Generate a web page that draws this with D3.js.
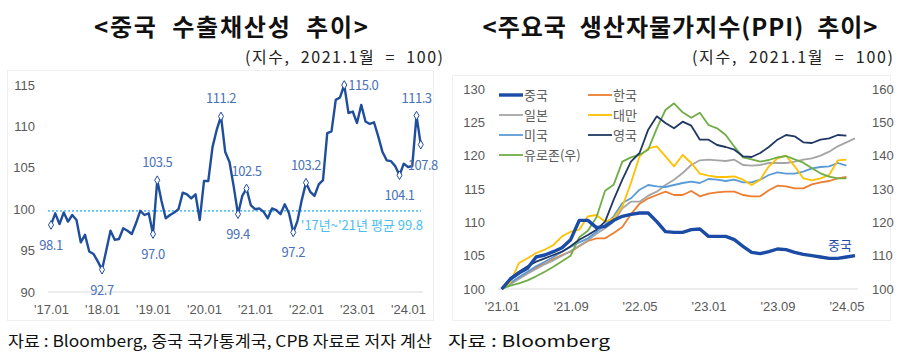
<!DOCTYPE html>
<html>
<head>
<meta charset="utf-8">
<script src="https://d3js.org/d3.v7.min.js"></script>
<style>
  body { margin: 0; background: #fff; }
  svg { font-family: "Noto Sans CJK KR", "Noto Sans", sans-serif; }
  .pre { white-space: pre; }
</style>
</head>
<body>
<div id="chart"></div>
<script>
// ---- left chart: 중국 수출채산성 (2017.01 ~ 2024.04, monthly)
var exportIdx = [98.1, 99.5, 98.2, 99.6, 98.5, 99.3, 98.7, 96.0, 96.9, 94.9, 94.6, 93.7,
  92.7, 95.0, 97.4, 96.3, 96.4, 97.7, 97.4, 97.0, 98.3, 99.8, 99.3, 99.5,
  97.0, 103.5, 101.0, 98.9, 99.3, 99.6, 100.0, 102.0, 101.8, 101.3, 101.8, 98.7,
  103.4, 103.4, 107.5, 109.6, 111.2, 106.9, 105.7, 102.7, 99.4, 101.6, 102.5, 100.5,
  100.0, 100.1, 99.7, 98.9, 100.1, 99.9, 99.4, 100.6, 99.5, 97.2, 98.6, 101.1,
  103.2, 102.1, 101.6, 103.0, 103.5, 109.2, 109.4, 113.2, 113.5, 115.0, 111.6, 111.8,
  110.4, 112.6, 110.6, 110.3, 110.5, 108.8, 106.9, 105.9, 105.8, 105.2, 104.1, 105.5,
  105.1, 105.2, 111.3, 107.8];
var exportTicks = ["'17.01", "'18.01", "'19.01", "'20.01", "'21.01", "'22.01", "'23.01", "'24.01"];
var exportAvg = 99.8;
// labelled points: [month index, position]
var exportMarks = [[0, "below"], [12, "below"], [24, "below"], [25, "above"], [40, "above"],
  [44, "below"], [46, "above"], [57, "below"], [60, "above"], [69, "right"], [82, "below"],
  [86, "above"], [87, "below"]];

// ---- right chart: 주요국 PPI (2021.01 ~ 2024.06, monthly)
var ppiTicks = ["'21.01", "'21.09", "'22.05", "'23.01", "'23.09", "'24.05"];
var ppiChina = [100, 101.5, 102.4, 103.1, 104.8, 105.1, 105.6, 106.2, 107.4, 110.3, 110.3, 109.2,
  109.4, 110.3, 110.9, 111.2, 111.4, 111.4, 110.1, 108.6, 108.5, 108.5, 108.9, 109.0,
  107.9, 107.9, 107.9, 107.4, 106.4, 105.5, 105.3, 105.6, 106.0, 105.9, 105.5, 105.2,
  105.0, 104.8, 104.6, 104.6, 104.8, 105.0];
var ppiKorea = [100, 100.8, 101.6, 102.5, 103.2, 103.8, 104.5, 105.1, 105.6, 106.4, 107.2, 107.6,
  107.6, 108.4, 109.3, 111.2, 112.8, 113.6, 114.1, 114.6, 114.1, 114.1, 114.7, 113.9,
  114.3, 114.5, 114.6, 114.6, 114.1, 113.9, 113.9, 114.8, 115.5, 115.4, 115.1, 115.1,
  115.7, 116.0, 116.2, 116.6, 116.8];
var ppiJapan = [100, 100.7, 101.5, 102.3, 103.0, 103.7, 104.3, 105.0, 105.7, 106.5, 107.3, 108.3,
  109.1, 110.1, 112.1, 113.1, 113.1, 114.0, 114.6, 115.6, 116.4, 117.4, 118.6, 119.3,
  119.4, 119.3, 119.2, 119.4, 118.6, 118.5, 118.6, 118.9, 118.9, 118.9, 119.1, 119.4,
  119.6, 120.0, 120.6, 121.4, 122.0, 122.6];
var ppiTaiwan = [100, 101.0, 103.9, 104.6, 105.4, 105.9, 106.6, 107.9, 108.6, 108.9, 110.9, 111.1,
  110.1, 110.6, 112.4, 115.9, 119.9, 121.1, 121.4, 119.9, 118.4, 120.1, 118.9, 117.3,
  117.0, 116.8, 116.8, 116.9, 116.4, 115.6, 116.4, 118.4, 119.6, 120.0, 118.4, 116.6,
  116.3, 116.6, 117.1, 119.3, 119.4];
var ppiUS = [100, 100.9, 101.8, 102.6, 103.4, 104.1, 104.8, 105.6, 106.3, 107.0, 107.6, 108.6,
  109.6, 110.9, 112.9, 113.6, 114.9, 115.6, 115.4, 115.3, 115.6, 115.9, 116.1, 115.9,
  116.5, 116.4, 116.2, 116.4, 116.0, 116.0, 116.4, 117.1, 117.5, 117.3, 117.3, 117.6,
  118.1, 118.3, 118.4, 118.9, 118.5];
var ppiUK = [100, 101.6, 102.6, 103.4, 104.1, 104.6, 105.1, 105.6, 106.4, 107.4, 108.1, 108.9,
  110.1, 113.4, 116.4, 119.1, 120.4, 123.9, 125.9, 124.9, 124.1, 125.1, 124.5, 122.4,
  122.4, 121.6, 121.3, 120.9, 119.9, 119.8, 120.4, 121.3, 122.4, 123.1, 122.9, 122.0,
  121.9, 122.4, 122.6, 123.1, 123.0];
var ppiEuro = [100, 101.0, 101.7, 102.6, 103.8, 105.2, 106.7, 108.3, 110.0, 115.5, 117.5, 121.5,
  129.5, 131.3, 138.2, 139.5, 140.3, 141.8, 148.2, 153.7, 155.7, 153.0, 151.4, 152.9,
  149.2, 148.2, 146.2, 142.7, 139.5, 138.9, 138.2, 138.7, 139.5, 139.9, 138.9, 137.9,
  136.2, 134.7, 133.7, 133.2, 133.2];

var W = 900, H = 361;
var svg = d3.select("#chart").append("svg").attr("width", W).attr("height", H);

// ===== left chart =====
// faint frame
svg.append("rect").attr("x", 7.5).attr("y", 70.5).attr("width", 426).attr("height", 250)
  .attr("fill", "none").attr("stroke", "#f0f0f0");

svg.append("text").attr("class", "pre").attr("x", 231).attr("y", 36).attr("text-anchor", "middle")
  .attr("font-size", 24).attr("font-weight", "bold").attr("fill", "#111")
  .attr("textLength", 274).attr("lengthAdjust", "spacing")
  .text("<중국  수출채산성  추이>");
svg.append("text").attr("class", "pre").attr("x", 443).attr("y", 63).attr("text-anchor", "end")
  .attr("font-size", 16).attr("fill", "#222")
  .attr("textLength", 198).attr("lengthAdjust", "spacing")
  .text("(지수,  2021.1월  =  100)");

var lx = d3.scaleLinear().domain([0, 87]).range([51, 51 + 4.25 * 87]);
var ly = d3.scaleLinear().domain([90, 115]).range([292, 85]);

var lyAxis = d3.axisLeft(ly).tickValues([90, 95, 100, 105, 110, 115]).tickSize(0).tickPadding(0);
svg.append("g").attr("class", "axis").attr("transform", "translate(35,0)").call(lyAxis)
  .call(function(g) { g.select(".domain").remove(); })
  .selectAll("text").attr("font-size", 13).attr("fill", "#595959");

svg.append("line").attr("x1", 48).attr("x2", 423).attr("y1", 292).attr("y2", 292)
  .attr("stroke", "#d9d9d9").attr("stroke-width", 1);

var lxAxis = d3.axisBottom(lx).tickValues(d3.range(0, 88, 12))
  .tickFormat(function(d, i) { return exportTicks[i]; }).tickSize(0).tickPadding(0);
svg.append("g").attr("transform", "translate(0,305)").call(lxAxis)
  .call(function(g) { g.select(".domain").remove(); })
  .selectAll("text").attr("font-size", 13).attr("fill", "#595959");

// average line
svg.append("line").attr("x1", 48).attr("x2", 421).attr("y1", ly(exportAvg)).attr("y2", ly(exportAvg))
  .attr("stroke", "#5cc4ef").attr("stroke-width", 1.6).attr("stroke-dasharray", "2,2");
svg.append("text").attr("x", 423).attr("y", 230).attr("text-anchor", "end")
  .attr("font-size", 13).attr("fill", "#4cbdf0").text("'17년~'21년 평균 " + exportAvg);

var lline = d3.line().x(function(d, i) { return lx(i); }).y(function(d) { return ly(d); });
svg.append("path").datum(exportIdx).attr("d", lline).attr("fill", "none")
  .attr("stroke", "#1f4e9c").attr("stroke-width", 2.4).attr("stroke-linejoin", "round");

var diamond = d3.symbol().type(d3.symbolDiamond).size(22);
svg.selectAll(".mk").data(exportMarks).enter().append("path")
  .attr("transform", function(d) { return "translate(" + lx(d[0]) + "," + ly(exportIdx[d[0]]) + ")"; })
  .attr("d", diamond).attr("fill", "#fff").attr("stroke", "#1f4e9c").attr("stroke-width", 1);

svg.selectAll(".lb").data(exportMarks).enter().append("text")
  .attr("x", function(d) {
    if (d[1] == "right") return lx(d[0]) + 4;
    return lx(d[0]) + (d[0] == 87 ? 2 : 0);
  })
  .attr("y", function(d) {
    var y = ly(exportIdx[d[0]]);
    if (d[1] == "above") return y - 13;
    if (d[1] == "below") return y + 25;
    return y + 5;
  })
  .attr("text-anchor", function(d) { return d[1] == "right" ? "start" : "middle"; })
  .attr("font-size", 13).attr("fill", "#4a72b8").attr("letter-spacing", -0.5)
  .text(function(d) { return exportIdx[d[0]].toFixed(1); });

// ===== right chart =====
svg.append("rect").attr("x", 452.5).attr("y", 75.5).attr("width", 438).attr("height", 245)
  .attr("fill", "none").attr("stroke", "#f0f0f0");

svg.append("text").attr("class", "pre").attr("x", 680).attr("y", 36).attr("text-anchor", "middle")
  .attr("font-size", 24).attr("font-weight", "bold").attr("fill", "#111")
  .attr("textLength", 395).attr("lengthAdjust", "spacing")
  .text("<주요국  생산자물가지수(PPI)  추이>");
svg.append("text").attr("class", "pre").attr("x", 893).attr("y", 63).attr("text-anchor", "end")
  .attr("font-size", 16).attr("fill", "#222")
  .attr("textLength", 201).attr("lengthAdjust", "spacing")
  .text("(지수,  2021.1월  =  100)");

var rx = d3.scaleLinear().domain([0, 41]).range([501.7, 855]);
var ryL = d3.scaleLinear().domain([100, 130]).range([289, 89]);
var ryR = d3.scaleLinear().domain([100, 160]).range([289, 89]);

svg.append("g").attr("transform", "translate(485,0)")
  .call(d3.axisLeft(ryL).tickValues(d3.range(100, 131, 5)).tickSize(0).tickPadding(0))
  .call(function(g) { g.select(".domain").remove(); })
  .selectAll("text").attr("font-size", 13).attr("fill", "#595959");
svg.append("g").attr("transform", "translate(872,0)")
  .call(d3.axisRight(ryR).tickValues(d3.range(100, 161, 10)).tickSize(0).tickPadding(0))
  .call(function(g) { g.select(".domain").remove(); })
  .selectAll("text").attr("font-size", 13).attr("fill", "#595959");

svg.append("line").attr("x1", 498).attr("x2", 858).attr("y1", 289).attr("y2", 289)
  .attr("stroke", "#d9d9d9").attr("stroke-width", 1);

svg.append("g").attr("transform", "translate(0,302)")
  .call(d3.axisBottom(rx).tickValues(d3.range(0, 41, 8))
    .tickFormat(function(d, i) { return ppiTicks[i]; }).tickSize(0).tickPadding(0))
  .call(function(g) { g.select(".domain").remove(); })
  .selectAll("text").attr("font-size", 13).attr("fill", "#595959");

var series = [
  { name: "중국", values: ppiChina, color: "#1a4ba6", width: 3.4, axis: ryL },
  { name: "한국", values: ppiKorea, color: "#ed7d31", width: 1.8, axis: ryL },
  { name: "일본", values: ppiJapan, color: "#a5a5a5", width: 1.8, axis: ryL },
  { name: "대만", values: ppiTaiwan, color: "#ffc000", width: 1.8, axis: ryL },
  { name: "미국", values: ppiUS, color: "#5b9bd5", width: 1.8, axis: ryL },
  { name: "영국", values: ppiUK, color: "#203864", width: 1.8, axis: ryL },
  { name: "유로존(우)", values: ppiEuro, color: "#70ad47", width: 1.8, axis: ryR }
];

var drawOrder = [1, 2, 4, 3, 6, 5, 0];
drawOrder.forEach(function(k) {
  var s = series[k];
  var line = d3.line().x(function(d, i) { return rx(i); }).y(function(d) { return s.axis(d); });
  svg.append("path").datum(s.values).attr("d", line).attr("fill", "none")
    .attr("stroke", s.color).attr("stroke-width", s.width).attr("stroke-linejoin", "round");
});

// legend
var legend = svg.append("g");
series.forEach(function(s, i) {
  var col = i % 2, row = Math.floor(i / 2);
  var x0 = col == 0 ? 499 : 588, y0 = 95 + row * 20;
  legend.append("line").attr("x1", x0).attr("x2", x0 + 24).attr("y1", y0).attr("y2", y0)
    .attr("stroke", s.color).attr("stroke-width", s.width);
  legend.append("text").attr("x", x0 + 25).attr("y", y0 + 5).attr("font-size", 13)
    .attr("fill", "#595959").text(s.name);
});

svg.append("text").attr("x", 840).attr("y", 250).attr("text-anchor", "middle")
  .attr("font-size", 13).attr("fill", "#1a4ba6").text("중국");

// ===== sources =====
svg.append("text").attr("x", 8).attr("y", 347).attr("font-size", 16).attr("fill", "#111")
  .attr("textLength", 424).attr("lengthAdjust", "spacingAndGlyphs")
  .text("자료 : Bloomberg, 중국 국가통계국, CPB 자료로 저자 계산");
svg.append("text").attr("x", 448).attr("y", 347).attr("font-size", 16).attr("fill", "#111")
  .attr("textLength", 162).attr("lengthAdjust", "spacingAndGlyphs")
  .text("자료 : Bloomberg");
</script>
</body>
</html>
